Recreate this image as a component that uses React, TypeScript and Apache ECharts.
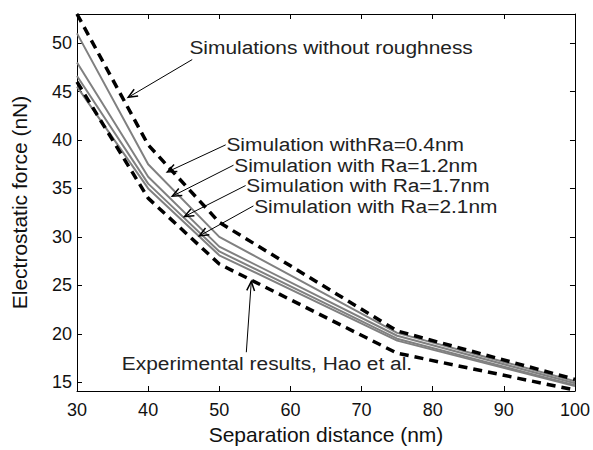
import React, { useEffect, useRef } from "react";
import * as echarts from "echarts";

const distances = [30, 40, 50, 75, 100];
const noRoughness = [53, 39.5, 31.5, 20.3, 15.3];
const ra04 = [51, 37.5, 30, 20.1, 15.1];
const ra12 = [48, 36.2, 29.0, 19.8, 14.9];
const ra17 = [46.6, 35.5, 28.5, 19.5, 14.7];
const ra21 = [45.5, 35.0, 28.1, 19.3, 14.6];
const experimental = [46, 34, 27.2, 18, 14.2];
const yTicks = [15, 20, 25, 30, 35, 40, 45, 50];

const labelNoRough = "Simulations without roughness";
const labelRa04 = "Simulation withRa=0.4nm";
const labelRa12 = "Simulation with Ra=1.2nm";
const labelRa17 = "Simulation with Ra=1.7nm";
const labelRa21 = "Simulation with Ra=2.1nm";
const labelExp = "Experimental results, Hao et al.";

// annotation anchors in data coordinates: text left point, arrow tail, arrow head
const annotations = [
  { text: labelNoRough, at: [45.8, 49.6], tail: [46.2, 48.3], head: [37.2, 44.4] },
  { text: labelRa04, at: [51.0, 39.5], tail: [50.9, 39.5], head: [42.7, 36.7] },
  { text: labelRa12, at: [52.1, 37.4], tail: [52.0, 37.4], head: [43.4, 34.2] },
  { text: labelRa17, at: [53.8, 35.3], tail: [53.7, 35.3], head: [45.1, 32.1] },
  { text: labelRa21, at: [54.9, 33.2], tail: [54.8, 33.2], head: [47.2, 30.1] },
  { text: labelExp, at: [36.3, 17.0], tail: [53.8, 18.1], head: [54.5, 25.4] },
];

const FONT = "'Liberation Sans', Arial, Helvetica, sans-serif";

const pair = (ys: number[]) => distances.map((x, i) => [x, ys[i]]);

export default function App() {
  const ref = useRef<HTMLDivElement>(null);
  useEffect(() => {
    if (!ref.current) return;
    const chart = echarts.init(ref.current, null, { renderer: "svg" });
    const axisLine = { show: true, lineStyle: { color: "#000", width: 1 } };
    const grayLine = (name: string, ys: number[]) => ({
      name,
      type: "line",
      data: pair(ys),
      symbol: "none",
      lineStyle: { color: "#808080", width: 2 },
      z: 2,
    });
    const dashLine = (name: string, ys: number[]) => ({
      name,
      type: "line",
      data: pair(ys),
      symbol: "none",
      lineStyle: { color: "#000", width: 3.5, type: [9, 6] },
      z: 3,
    });
    chart.setOption({
      animation: false,
      backgroundColor: "#fff",
      grid: { left: 77, right: 15, top: 14, bottom: 57 },
      xAxis: [
        {
          type: "value",
          min: 30,
          max: 100,
          interval: 10,
          position: "bottom",
          name: "Separation distance (nm)",
          nameLocation: "middle",
          nameGap: 33,
          nameTextStyle: { fontFamily: FONT, fontSize: 21, color: "#111" },
          axisLine,
          axisTick: { inside: true, length: 5, lineStyle: { color: "#000" } },
          axisLabel: { fontFamily: FONT, fontSize: 18, color: "#111", margin: 10 },
          splitLine: { show: false },
        },
        {
          type: "value",
          min: 30,
          max: 100,
          interval: 10,
          position: "top",
          axisLine,
          axisTick: { inside: true, length: 5, lineStyle: { color: "#000" } },
          axisLabel: { show: false },
          splitLine: { show: false },
        },
      ],
      yAxis: [
        {
          type: "value",
          min: 14.1,
          max: 53,
          position: "left",
          name: "Electrostatic force (nN)",
          nameLocation: "middle",
          nameGap: 47,
          nameTextStyle: { fontFamily: FONT, fontSize: 21, color: "#111" },
          axisLine,
          axisTick: { inside: true, length: 5, customValues: yTicks, lineStyle: { color: "#000" } },
          axisLabel: { fontFamily: FONT, fontSize: 18, color: "#111", margin: 5, customValues: yTicks },
          splitLine: { show: false },
        },
        {
          type: "value",
          min: 14.1,
          max: 53,
          position: "right",
          axisLine,
          axisTick: { inside: true, length: 5, customValues: yTicks, lineStyle: { color: "#000" } },
          axisLabel: { show: false, customValues: yTicks },
          splitLine: { show: false },
        },
      ],
      series: [
        grayLine(labelRa04, ra04),
        grayLine(labelRa12, ra12),
        grayLine(labelRa17, ra17),
        grayLine(labelRa21, ra21),
        dashLine(labelNoRough, noRoughness),
        dashLine(labelExp, experimental),
      ],
    });

    const toPx = (p: number[]) =>
      chart.convertToPixel({ xAxisIndex: 0, yAxisIndex: 0 }, p) as number[];
    const graphics: any[] = [];
    annotations.forEach((a) => {
      const t = toPx(a.at);
      const tail = toPx(a.tail);
      const head = toPx(a.head);
      graphics.push({
        type: "text",
        x: t[0],
        y: t[1],
        scaleX: 1.1,
        z: 10,
        style: {
          text: a.text,
          fontFamily: FONT,
          fontSize: 19,
          fill: "#222",
          textAlign: "left",
          textVerticalAlign: "middle",
          verticalAlign: "middle",
        },
      });
      graphics.push({
        type: "line",
        z: 9,
        shape: { x1: tail[0], y1: tail[1], x2: head[0], y2: head[1] },
        style: { stroke: "#000", lineWidth: 1 },
      });
      const ang = Math.atan2(tail[1] - head[1], tail[0] - head[0]);
      const L = 10;
      const sp = 0.4;
      const p1 = [head[0] + L * Math.cos(ang + sp), head[1] + L * Math.sin(ang + sp)];
      const p2 = [head[0] + L * Math.cos(ang - sp), head[1] + L * Math.sin(ang - sp)];
      graphics.push({
        type: "polyline",
        z: 9,
        shape: { points: [p1, head, p2] },
        style: { stroke: "#000", lineWidth: 1.5, fill: "none" },
      });
    });
    chart.setOption({ graphic: graphics });
    return () => chart.dispose();
  }, []);
  return <div ref={ref} style={{ width: 593, height: 450, position: "absolute", left: 0, top: 0 }} />;
}
